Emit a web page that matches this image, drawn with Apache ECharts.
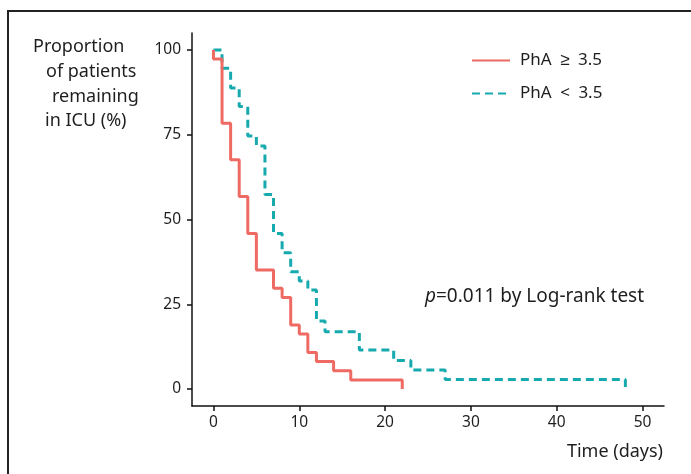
<!DOCTYPE html>
<html>
<head>
<meta charset="utf-8">
<title>ICU survival curve</title>
<script src="https://cdn.jsdelivr.net/npm/echarts@6/dist/echarts.min.js"></script>
<style>
  html, body { margin: 0; padding: 0; background: #fff; }
  #main { width: 691px; height: 474px; }
</style>
</head>
<body>
<div id="main"></div>
<script>
// Kaplan-Meier steps (days, % remaining)
var redName = 'PhA\u2002\u2265\u20023.5';
var redTimes = [0, 0, 1, 2, 3, 4, 5, 7, 8, 9, 10, 11, 12, 14, 16, 22];
var redSurv  = [100, 97.3, 78.4, 67.6, 56.8, 45.9, 35.1, 29.7, 27.0, 18.9, 16.2, 10.8, 8.1, 5.4, 2.7, 0];

var tealName = 'PhA\u2002<\u20023.5';
var tealTimes = [0, 1, 2, 3, 4, 5, 6, 7, 8, 9, 10, 11, 12, 13, 17, 21, 23, 27, 48];
var tealSurv  = [100, 94.6, 88.8, 83.3, 74.6, 71.7, 57.4, 45.9, 40.2, 34.6, 31.9, 29.2, 20.1, 16.9, 11.5, 8.4, 5.6, 2.8, 0];

var xTicks = [0, 10, 20, 30, 40, 50];
var yTicks = [0, 25, 50, 75, 100];

var FONT = '"Noto Sans", sans-serif';
var TXT = '#1e1e1e';

function pairs(t, s) {
  var out = [];
  for (var i = 0; i < t.length; i++) out.push([t[i], s[i]]);
  return out;
}

function label(x, y, text, align) {
  return { type: 'text', x: x, y: y, silent: true,
    style: { text: text, font: '18px ' + FONT, fill: TXT,
      textAlign: align || 'left', align: align || 'left',
      textVerticalAlign: 'middle', verticalAlign: 'middle' } };
}

var chart = echarts.init(document.getElementById('main'));
chart.setOption({
  animation: false,
  backgroundColor: '#fff',
  textStyle: { fontFamily: FONT },
  grid: { left: 192, right: 27, top: 33, bottom: 68 },
  legend: {
    orient: 'vertical',
    left: 466, top: 47,
    itemWidth: 38, itemHeight: 18, itemGap: 16,
    itemStyle: { opacity: 0 },
    textStyle: { fontSize: 17, color: TXT, fontFamily: FONT, padding: [0, 0, 0, 5] },
    data: [redName, tealName]
  },
  xAxis: {
    type: 'value', min: -2.5, max: 52.5,
    axisLine: { onZero: false, lineStyle: { color: '#111', width: 1.5 } },
    axisTick: { customValues: xTicks, length: 5, lineStyle: { color: '#111', width: 1.5 } },
    axisLabel: { customValues: xTicks, fontSize: 15.5, color: TXT, margin: 9, fontFamily: FONT },
    splitLine: { show: false }
  },
  yAxis: {
    type: 'value', min: -5, max: 105,
    axisLine: { show: true, onZero: false, lineStyle: { color: '#111', width: 1.5 } },
    axisTick: { show: true, customValues: yTicks, length: 5, lineStyle: { color: '#111', width: 1.5 } },
    axisLabel: { customValues: yTicks, fontSize: 15.5, color: TXT, margin: 11, fontFamily: FONT },
    splitLine: { show: false }
  },
  series: [
    {
      name: tealName, type: 'line', step: 'end', symbol: 'none', z: 2,
      lineStyle: { color: '#16A9AE', width: 3, type: [8, 5] },
      itemStyle: { color: '#16A9AE' },
      data: pairs(tealTimes, tealSurv)
    },
    {
      name: redName, type: 'line', step: 'end', symbol: 'none', z: 3,
      lineStyle: { color: '#EE6A63', width: 3 },
      itemStyle: { color: '#EE6A63' },
      data: pairs(redTimes, redSurv)
    }
  ],
  graphic: [
    // frame of the figure panel
    { type: 'rect', shape: { x: 8, y: 11, width: 720, height: 500 },
      style: { fill: 'none', stroke: '#222', lineWidth: 2 }, silent: true },
    label(33, 47, 'Proportion'),
    label(46, 72, 'of patients'),
    label(52, 97, 'remaining'),
    label(45, 121, 'in ICU (%)'),
    label(663, 452, 'Time (days)', 'right'),
    { type: 'text', x: 425, y: 297, silent: true, style: {
        text: '{i|p}=0.011 by Log-rank test', font: '19px ' + FONT, fill: TXT,
        textVerticalAlign: 'middle', verticalAlign: 'middle',
        rich: { i: { fontStyle: 'italic', fontSize: 19, fontFamily: FONT, fill: TXT, color: TXT } } } }
  ]
});
</script>
</body>
</html>
